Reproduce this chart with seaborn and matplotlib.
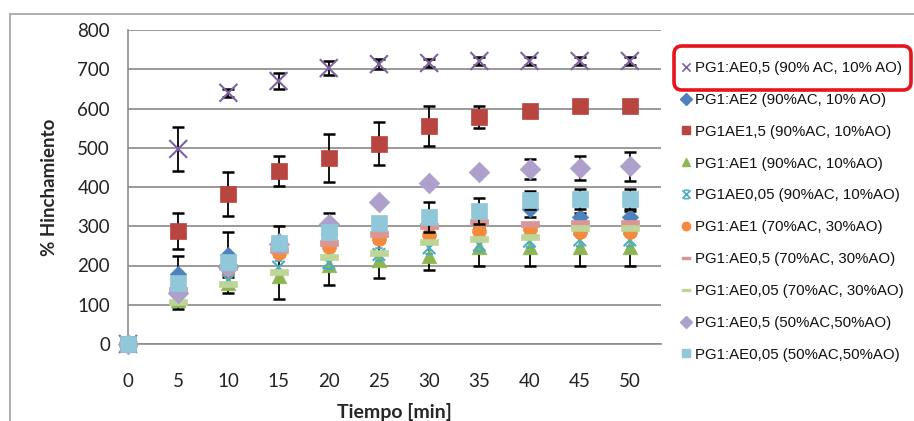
import numpy as np
import pandas as pd
import matplotlib
matplotlib.use("Agg")
import matplotlib.pyplot as plt
import seaborn as sns
from matplotlib.path import Path
from matplotlib.lines import Line2D
from matplotlib.patches import FancyBboxPatch
from matplotlib.transforms import IdentityTransform

# ---------------- data ----------------
tiempo = [0, 5, 10, 15, 20, 25, 30, 35, 40, 45, 50]

labels = [
    "PG1:AE0,5 (90% AC, 10% AO)",
    "PG1:AE2 (90%AC, 10% AO)",
    "PG1AE1,5 (90%AC, 10%AO)",
    "PG1:AE1 (90%AC, 10%AO)",
    "PG1AE0,05 (90%AC, 10%AO)",
    "PG1:AE1 (70%AC, 30%AO)",
    "PG1:AE0,5 (70%AC, 30%AO)",
    "PG1:AE0,05 (70%AC, 30%AO)",
    "PG1:AE0,5 (50%AC,50%AO)",
    "PG1:AE0,05 (50%AC,50%AO)",
]

ae05_90 = [0, 497, 640, 670, 703, 713, 716, 721, 721, 721, 721]
ae2_90 = [0, 178, 228, 262, 280, 285, 303, 311, 344, 323, 323]
ae15_90 = [0, 288, 382, 441, 474, 510, 555, 578, 594, 606, 606]
ae1_90 = [0, 112, 155, 173, 201, 214, 224, 247, 247, 247, 247]
ae005_90 = [0, 120, 162, 196, 207, 228, 245, 252, 262, 265, 265]
ae1_70 = [0, 130, 190, 232, 247, 267, 278, 288, 293, 285, 285]
ae05_70 = [0, 138, 196, 240, 258, 280, 300, 311, 307, 308, 308]
ae005_70 = [0, 108, 152, 183, 222, 232, 260, 267, 273, 295, 295]
ae05_50 = [0, 130, 195, 255, 305, 362, 410, 438, 446, 448, 453]
ae005_50 = [0, 155, 209, 257, 285, 308, 324, 339, 367, 369, 369]

err_ae05_90 = [0, 55, 10, 20, 17, 12, 10, 10, 10, 10, 10]
err_ae2_90 = [0, 46, 57, 38, 55, 0, 0, 0, 20, 12, 15]
err_ae15_90 = [0, 45, 56, 38, 62, 55, 51, 28, 8, 5, 5]
err_ae1_90 = [0, 23, 25, 58, 50, 46, 36, 48, 48, 48, 48]
err_ae05_50 = [0, 0, 0, 0, 0, 0, 0, 8, 25, 30, 37]
err_ae005_50 = [0, 0, 0, 0, 0, 0, 38, 33, 23, 25, 25]

series = [ae05_90, ae2_90, ae15_90, ae1_90, ae005_90,
          ae1_70, ae05_70, ae005_70, ae05_50, ae005_50]
errors = [err_ae05_90, err_ae2_90, err_ae15_90, err_ae1_90, None,
          None, None, None, err_ae05_50, err_ae005_50]

colors = ["#7F63A0", "#4F81BD", "#B8453F", "#8DB653", "#4BACC6",
          "#F38B3F", "#DA9694", "#BDD596", "#ADA0CB", "#90C8DA"]

# ---------------- markers ----------------
x_path = Path([(-1, -1), (1, 1), (-1, 1), (1, -1)],
              [Path.MOVETO, Path.LINETO, Path.MOVETO, Path.LINETO])
star_path = Path(
    [(-1, -1), (1, 1), (-1, 1), (1, -1), (-0.6, 1), (0.6, 1), (-0.6, -1), (0.6, -1)],
    [Path.MOVETO, Path.LINETO, Path.MOVETO, Path.LINETO,
     Path.MOVETO, Path.LINETO, Path.MOVETO, Path.LINETO])
dash_path = Path([(-1, -0.3), (1, -0.3), (1, 0.3), (-1, 0.3), (-1, -0.3)],
                 [Path.MOVETO, Path.LINETO, Path.LINETO, Path.LINETO, Path.CLOSEPOLY])

markers = [x_path, "D", "s", "^", star_path, "o", dash_path, dash_path, "D", "s"]
sizes = [165, 70, 120, 110, 80, 100, 150, 150, 110, 135]
filled = [False, True, True, True, False, True, True, True, True, True]

# long-form table
rows = []
for lab, vals in zip(labels, series):
    for t, v in zip(tiempo, vals):
        rows.append({"Tiempo": t, "Hinch": v, "Serie": lab})
df = pd.DataFrame(rows)

# ---------------- figure ----------------
sns.set_theme(style="white")
plt.rcParams["font.family"] = ["Liberation Sans", "DejaVu Sans"]

fig = plt.figure(figsize=(9.14, 4.21), dpi=100)
ax = fig.add_axes([128 / 914, 1 - 344 / 421, (661 - 128) / 914, (344 - 30) / 421])

for i, lab in enumerate(labels):
    sub = df[df["Serie"] == lab]
    z = 3 + i * 0.1
    if errors[i] is not None:
        ax.errorbar(tiempo, series[i], yerr=errors[i], fmt="none", ecolor="black",
                    elinewidth=1.3, capsize=4.3, capthick=1.8, zorder=z, clip_on=False)
    kw = dict(data=sub, x="Tiempo", y="Hinch", marker=markers[i], s=sizes[i],
              ax=ax, zorder=z + 0.05, clip_on=False, legend=False)
    if filled[i]:
        sns.scatterplot(color=colors[i], edgecolor=colors[i], linewidth=0.5, **kw)
    else:
        sns.scatterplot(color=colors[i], edgecolor=colors[i], facecolor="none",
                        linewidth=1.5, **kw)

# axes styling
ax.set_xlim(0, 53.1)
ax.set_ylim(0, 800)
ax.set_xticks(range(0, 51, 5))
ax.set_yticks(range(0, 801, 100))
ax.yaxis.grid(True, color="#9A9A9A", linewidth=1.4)
ax.xaxis.grid(False)
for sp in ["top", "right"]:
    ax.spines[sp].set_visible(False)
for sp in ["left", "bottom"]:
    ax.spines[sp].set_color("#8C8C8C")
    ax.spines[sp].set_linewidth(1.2)
ax.tick_params(axis="both", which="major", direction="out", width=1.1,
               color="#8C8C8C", labelsize=13.5, labelcolor="#222222")
ax.tick_params(axis="y", length=7, pad=6)
ax.tick_params(axis="x", length=6, pad=15)
for lbl in ax.get_xticklabels() + ax.get_yticklabels():
    lbl.set_fontfamily(["Lato", "DejaVu Sans"])
ax.set_xlabel("Tiempo [min]", fontsize=14, fontweight="bold", labelpad=9,
              family=["Lato", "DejaVu Sans"])
ax.set_ylabel("% Hinchamiento", fontsize=13.5, fontweight="bold", labelpad=14,
              family=["Lato", "DejaVu Sans"])
ax.set_facecolor("white")

# legend
handles = []
for i in range(len(labels)):
    if filled[i]:
        h = Line2D([], [], linestyle="none", marker=markers[i], markersize=6,
                   markerfacecolor=colors[i], markeredgecolor=colors[i])
    else:
        h = Line2D([], [], linestyle="none", marker=markers[i], markersize=6,
                   markerfacecolor="none", markeredgecolor=colors[i], markeredgewidth=1.2)
    handles.append(h)
leg = fig.legend(handles, labels, loc="upper left", bbox_to_anchor=(681 / 914, 1 - 61 / 421),
                 frameon=False, fontsize=10.8, handlelength=0.7, handletextpad=0.25,
                 labelspacing=1.19, borderaxespad=0, borderpad=0)
for txt in leg.get_texts():
    txt.set_color("#111111")

# outer chart border
fig.add_artist(Line2D([10, 914], [421 - 14, 421 - 14], transform=IdentityTransform(),
                      color="#A8A8A8", linewidth=1.3))
fig.add_artist(Line2D([10, 10], [0, 421 - 14], transform=IdentityTransform(),
                      color="#A8A8A8", linewidth=1.3))

# red highlight around first legend entry
box = FancyBboxPatch((674, 421 - 90), 237, 44,
                     boxstyle="round,pad=0,rounding_size=8",
                     transform=IdentityTransform(), fill=False,
                     edgecolor="#E8141B", linewidth=2.6)
fig.add_artist(box)

fig.savefig("out.png", dpi=100)
